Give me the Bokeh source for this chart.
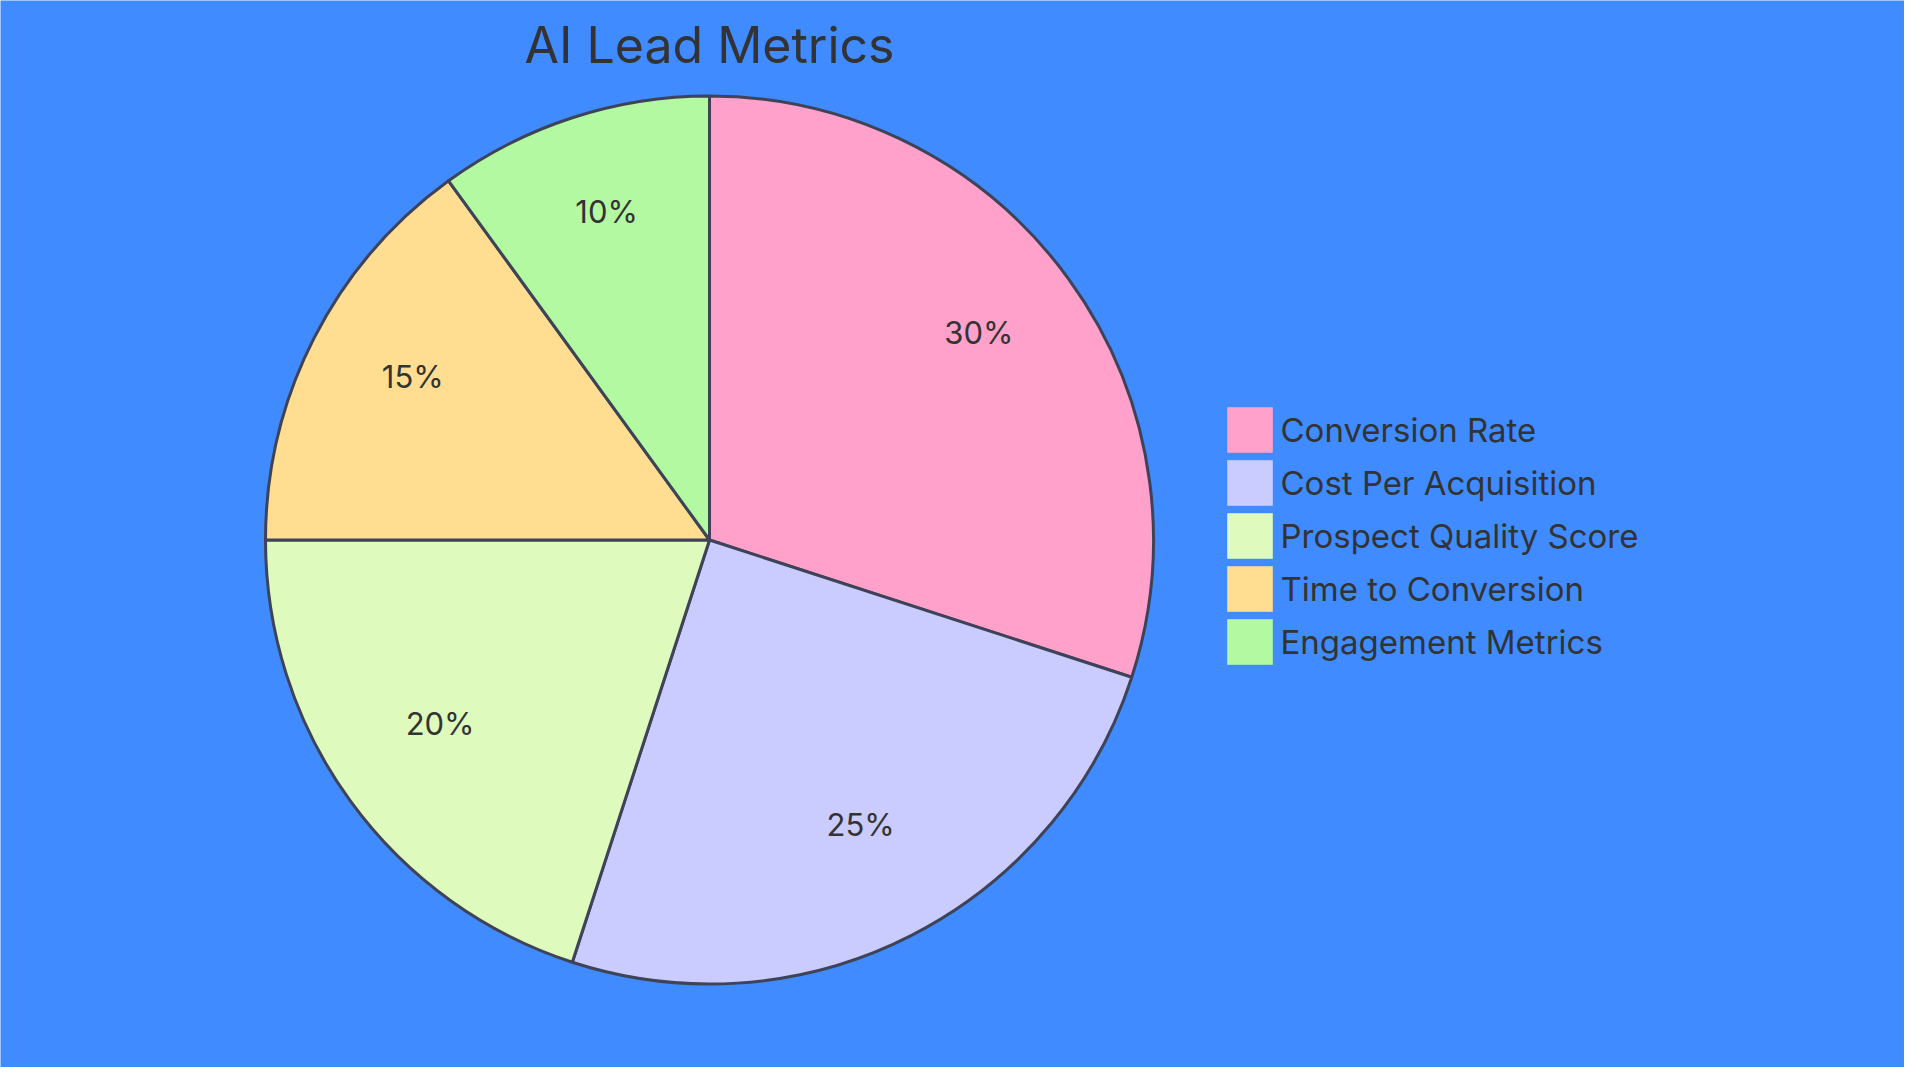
import numpy as np
from bokeh.plotting import figure
from bokeh.models import ColumnDataSource, Range1d
from bokeh.core.properties import value
from bokeh.embed import file_html
from bokeh.resources import INLINE

title = "AI Lead Metrics"
categories = ["Conversion Rate", "Cost Per Acquisition", "Prospect Quality Score",
              "Time to Conversion", "Engagement Metrics"]
values = [30, 25, 20, 15, 10]
colors = ["#FFA1CA", "#CACBFF", "#DEFABC", "#FFDE92", "#B3F9A1"]

BG = "#3F8BFF"
TEXT = "#333333"
STROKE = "#3F4358"
FONT = "Inter"

W, H = 1904, 1067
p = figure(width=W, height=H, output_backend="svg", toolbar_location=None,
           x_range=Range1d(0, W), y_range=Range1d(0, H), min_border=0)
p.axis.visible = False
p.grid.visible = False
p.outline_line_color = None
p.background_fill_color = BG
p.border_fill_color = BG

TEXT_SHIFT = 12  # empirical vertical correction for text rendering

def sx(x):
    return x

def sy(y):
    return H - y

cx, cy, R = sx(709), sy(539.5), 444

vals = np.array(values, dtype=float)
frac = vals / vals.sum()
cum = np.concatenate([[0], np.cumsum(frac)])
start = np.pi / 2 - cum[:-1] * 2 * np.pi
end = np.pi / 2 - cum[1:] * 2 * np.pi
mid = (start + end) / 2

src = ColumnDataSource(dict(start=start, end=end, color=colors, cat=categories))
p.wedge(x=cx, y=cy, radius=R, start_angle="start", end_angle="end", direction="clock",
        fill_color="color", line_color=STROKE, line_width=3, source=src)

lr = 0.75 * R
lab = ColumnDataSource(dict(x=cx + lr * np.cos(mid), y=cy + lr * np.sin(mid) + TEXT_SHIFT,
                            t=[f"{v:.0f}%" for v in frac * 100]))
p.text(x="x", y="y", text="t", source=lab, text_font=value(FONT), text_font_size="31px",
       text_color=TEXT, text_align="center", text_baseline="middle")

# title
p.text(x=[cx], y=[sy(60) + TEXT_SHIFT + 4], text=[title], text_font=value(FONT),
       text_font_size="50px", text_color=TEXT, text_align="center",
       text_baseline="alphabetic")

# legend
n = len(categories)
box = 45
idx = np.arange(n)
box_cy = sy(429.5 + 53 * idx)
leg = ColumnDataSource(dict(x=np.full(n, sx(1227 + box / 2)), y=box_cy, color=colors,
                            tx=np.full(n, sx(1280)), ty=box_cy - 12 + TEXT_SHIFT, t=categories))
p.rect(x="x", y="y", width=box, height=box, fill_color="color", line_color="color",
       line_alpha=0.6, source=leg)
p.text(x="tx", y="ty", text="t", source=leg, text_font=value(FONT), text_font_size="33px",
       text_color=TEXT, text_align="left", text_baseline="alphabetic")

open("out.html", "w").write(file_html(p, INLINE))
